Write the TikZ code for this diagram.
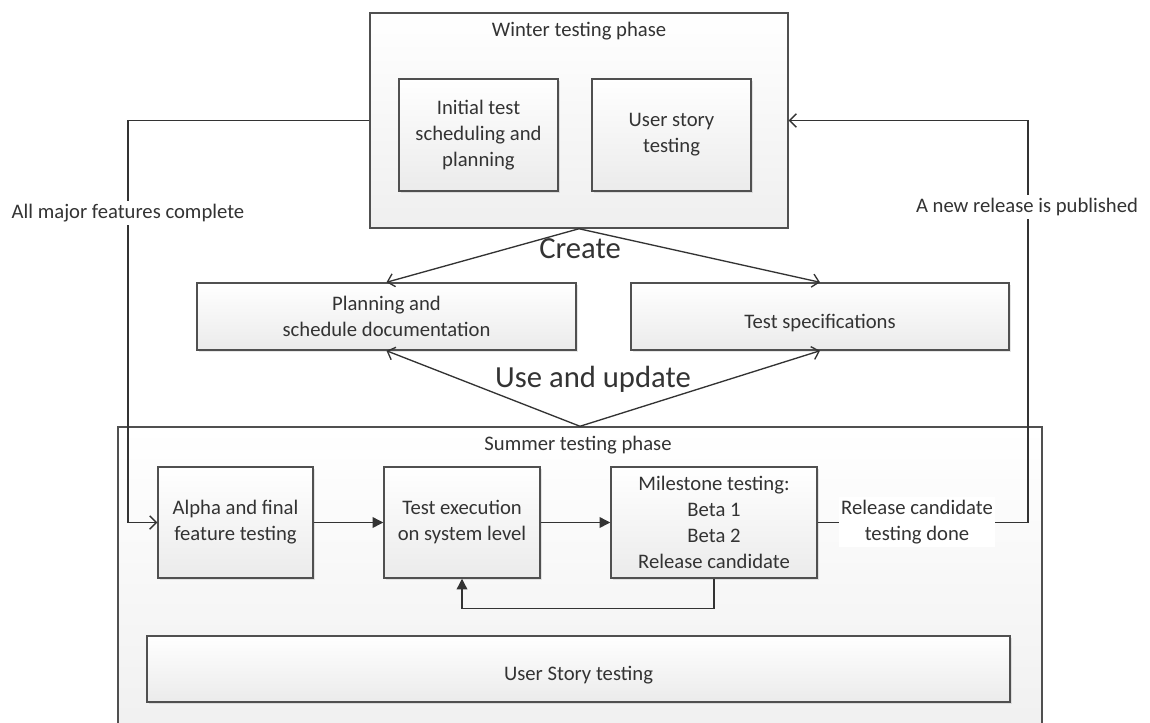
\documentclass[tikz,border=0pt]{standalone}
\usepackage{fontspec}
\setmainfont{Carlito}
\usepackage{tikz}
\usetikzlibrary{positioning,fit,calc,arrows.meta,shadows}

\definecolor{linegray}{HTML}{333333}
\definecolor{boxedge}{HTML}{505050}
\definecolor{boxlow}{HTML}{EBEBEB}

\tikzset{
	txt/.style={font=\fontsize{15.5}{19.5}\selectfont, text=black!80, align=center},
	phasebox/.style={draw=boxedge, line width=1.1pt, top color=white, bottom color=boxlow!80, inner sep=0pt},
	taskbox/.style 2 args={draw=boxedge, line width=1.1pt, top color=white, bottom color=boxlow, inner sep=0pt, txt,
		minimum width=#1*0.75pt, minimum height=#2*0.75pt,
		execute at begin node={\rule{0pt}{20pt}},
		drop shadow={opacity=0.2, shadow xshift=1.5pt, shadow yshift=-1.5pt}},
	conn/.style={draw=linegray, line width=1pt},
	openarrow/.style={conn, -{Straight Barb[length=5pt,width=10pt]}},
	fillarrow/.style={conn, -{Triangle[length=8pt,width=8pt]}},
	biglabel/.style={font=\fontsize{23}{26}\selectfont, text=black!80},
	linelabel/.style={txt, fill=white, inner sep=2pt}
}

\begin{document}
\begin{tikzpicture}[x=0.75pt,y=-0.75pt]
				\useasboundingbox (0,0) rectangle (1150,722);
				\clip (0,0) rectangle (1150,722);
				% winter phase
				\node[phasebox, fit={(370,13) (788,228)}] (winter) {};
				\node[txt] (wintertitle) at (579,31) {Winter testing phase};
				\node[taskbox={159}{112}] (initial) at (478.5,135) {Initial test\\scheduling and\\planning};
				\node[taskbox={159}{112}] (userstory) at (671.5,135) {User story\\testing};
				% documents
				\node[taskbox={379}{67}] (plan) at (386.5,316.5) {Planning and\\schedule documentation};
				\node[taskbox={378}{67}] (spec) at (820,316.5) {Test specifications};
				% summer phase
				\node[phasebox, fit={(118,427) (1042,760)}] (summer) {};
				\node[txt] (summertitle) at (578,445) {Summer testing phase};
				\node[taskbox={155}{111}] (alpha) at (235.5,522.5) {Alpha and final\\feature testing};
				\node[taskbox={156}{111}] (exec) at (462,522.5) {Test execution\\on system level};
				\node[taskbox={206}{111}] (milestone) at (714,522.5) {Milestone testing:\\Beta 1\\Beta 2\\Release candidate};
				\node[taskbox={863}{66}] (storytest) at (578.5,669) {User Story testing};
				% create / use and update
				\draw[openarrow] (winter.south) -- (plan.north);
				\draw[openarrow] (winter.south) -- (spec.north);
				\node[biglabel] (create) at (580,249) {Create};
				\draw[openarrow] (summer.north) -- (plan.south);
				\draw[openarrow] (summer.north) -- (spec.south);
				\node[biglabel] (useupdate) at (593,379) {Use and update};
				% flow inside summer phase
				\draw[fillarrow] (alpha) -- (exec);
				\draw[fillarrow] (exec) -- (milestone);
				\draw[fillarrow] (milestone.south) -- ++(0,30) -| (exec.south);
				% loops between phases
				\coordinate (leftbend) at (128,522.5);
				\draw[openarrow] (winter.west) -| (leftbend) -- (alpha.west);
				\node[linelabel] (majorlabel) at (128,213) {All major features complete};
				\coordinate (rightbend) at (1028,522.5);
				\draw[openarrow] (milestone.east) -- (rightbend) |- (winter.east);
				\node[linelabel] (rclabel) at (917,522) {Release candidate\\testing done};
				\node[linelabel] (releaselabel) at (1027,207) {A new release is published};
\end{tikzpicture}
\end{document}
